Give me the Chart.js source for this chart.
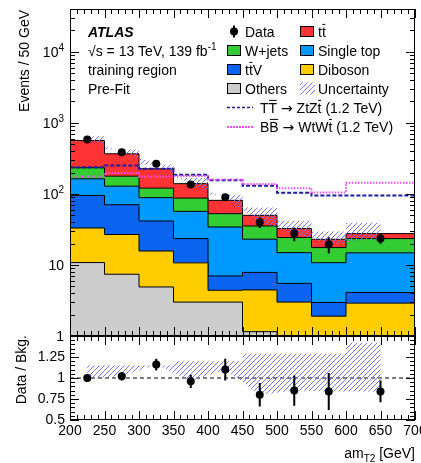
<!DOCTYPE html>
<html>
<head>
<meta charset="utf-8">
<script src="https://cdn.jsdelivr.net/npm/chart.js@4.4.1/dist/chart.umd.min.js"></script>
<style>
  html, body { margin: 0; padding: 0; background: #fff; }
  #wrap { position: relative; width: 421px; height: 463px; overflow: hidden; }
  #wrap canvas { position: absolute; left: 0; top: 0; }
</style>
</head>
<body>
<div id="wrap">
  <canvas id="ratio" width="421" height="463"></canvas>
  <canvas id="main" width="421" height="463"></canvas>
</div>
<script>
// amT2 bins (last bin is 100 GeV wide)
const binEdges = [200, 250, 300, 350, 400, 450, 500, 550, 600, 700];
const binCenters = [225, 275, 325, 375, 425, 475, 525, 575, 650];

// background components, events / 50 GeV
const others    = [10.8, 7.4, 4.9, 3.0, 3.0, 1.15, 0.5, 0.4, 0.4];
const diboson   = [22.3, 19.4, 10.8, 7.7, 1.4, 3.3, 2.5, 1.5, 2.5];
const ttV       = [62, 43.7, 25.8, 12.8, 2.6, 3.4, 2.5, 1.06, 1.2];
const singleTop = [68, 58, 47, 33.3, 27.2, 15.2, 9.4, 7.8, 10.7];
const wjets     = [70, 49, 32, 30.5, 18.5, 12.3, 9.4, 6.8, 8.7];
const ttbar     = [330, 189, 105, 52, 28.4, 14.6, 8.2, 5.4, 4.1];

const dataCounts = [582, 386, 265, 136, 90, 40, 27.6, 19.6, 23.5];
const dataErr    = [25, 20, 16, 11, 10, 7, 6, 5, 3.7];

// signal hypotheses, 1.2 TeV
const sigTT = [238, 251, 226, 186, 155, 130, 104, 95, 95];
const sigBB = [176, 196, 176, 178, 160, 138, 120, 105, 144];

// relative background uncertainty per bin
const relUnc = [0.15, 0.15, 0.15, 0.2, 0.2, 0.29, 0.29, 0.29, 0.42];

const ratio    = [1.0, 1.02, 1.16, 0.96, 1.1, 0.8, 0.85, 0.84, 0.84];
const ratioErr = [0.04, 0.05, 0.07, 0.08, 0.13, 0.14, 0.18, 0.22, 0.13];

const FONT = '"Liberation Sans", Arial, Helvetica, sans-serif';
const SYMBOL_FONT = '"DejaVu Sans", sans-serif';
const COLORS = {
  ttbar: '#ff3333', wjets: '#33cc33', singleTop: '#0099ff',
  ttV: '#0a64f0', diboson: '#ffcc00', others: '#cccccc',
  sigTT: '#1c1ca8', sigBB: '#f050f0'
};

// histogram as stepped line: one point per left edge, plus the closing edge
const steps = vals => binEdges.map((x, i) => ({ x, y: vals[Math.min(i, vals.length - 1)] }));

const total = ttbar.map((_, i) => others[i] + diboson[i] + ttV[i] + singleTop[i] + wjets[i] + ttbar[i]);

function makeHatch(color) {
  const c = document.createElement('canvas');
  c.width = c.height = 5;
  const g = c.getContext('2d');
  g.strokeStyle = color;
  g.lineWidth = 1;
  g.beginPath();
  g.moveTo(0, 5); g.lineTo(5, 0);
  g.moveTo(-1, 1); g.lineTo(1, -1);
  g.moveTo(4, 6); g.lineTo(6, 4);
  g.stroke();
  return g.createPattern(c, 'repeat');
}
const hatch = makeHatch('#7474ff');

// text runs: plain, 'sup', 'sub', 'bar' (overlined) or 'sym' (symbol font)
function drawRich(ctx, x, y, parts, size, align) {
  const pieces = parts.map(p => typeof p === 'string' ? [p, ''] : p);
  const fontFor = m => {
    if (m === 'sym') return size + 'px ' + SYMBOL_FONT;
    return (m === 'sup' || m === 'sub' ? Math.round(size * 0.72) : size) + 'px ' + FONT;
  };
  let w = 0;
  for (const [t, m] of pieces) { ctx.font = fontFor(m); w += ctx.measureText(t).width; }
  let cx = align === 'right' ? x - w : x;
  ctx.textAlign = 'left';
  ctx.textBaseline = 'alphabetic';
  for (const [t, m] of pieces) {
    ctx.font = fontFor(m);
    const dy = m === 'sup' ? -size * 0.42 : m === 'sub' ? size * 0.3 : 0;
    ctx.fillText(t, cx, y + dy);
    const tw = ctx.measureText(t).width;
    if (m === 'bar') ctx.fillRect(cx + 0.5, y - size * 0.9, tw - 1, 1);
    cx += tw;
  }
}

// inward ticks on all four sides plus the frame
function makeFrame(xTicks, yTicks) {
  return {
    id: 'atlasFrame',
    afterDatasetsDraw(chart) {
      const { ctx, chartArea: a, scales: { x, y } } = chart;
      ctx.save();
      ctx.strokeStyle = '#000';
      ctx.lineWidth = 1;
      ctx.beginPath();
      for (const [v, len] of xTicks) {
        const px = Math.round(x.getPixelForValue(v)) + 0.5;
        ctx.moveTo(px, a.bottom); ctx.lineTo(px, a.bottom - len);
        ctx.moveTo(px, a.top); ctx.lineTo(px, a.top + len);
      }
      for (const [v, len] of yTicks) {
        const py = Math.round(y.getPixelForValue(v)) + 0.5;
        ctx.moveTo(a.left, py); ctx.lineTo(a.left + len, py);
        ctx.moveTo(a.right, py); ctx.lineTo(a.right - len, py);
      }
      ctx.stroke();
      ctx.strokeRect(a.left + 0.5, a.top + 0.5, a.right - a.left - 1, a.bottom - a.top - 1);
      ctx.restore();
    }
  };
}

const errorBars = {
  id: 'errorBars',
  afterDatasetsDraw(chart) {
    const { ctx, scales: { y } } = chart;
    chart.data.datasets.forEach((ds, i) => {
      if (!ds.errors) return;
      const meta = chart.getDatasetMeta(i);
      ctx.save();
      ctx.strokeStyle = '#000';
      ctx.lineWidth = 2;
      ctx.beginPath();
      meta.data.forEach((pt, j) => {
        const v = ds.data[j].y, e = ds.errors[j];
        ctx.moveTo(pt.x, y.getPixelForValue(v + e));
        ctx.lineTo(pt.x, y.getPixelForValue(v - e));
      });
      ctx.stroke();
      ctx.restore();
    });
  }
};

const Y_MAX = 40000;
const xTicks = [];
for (let v = 200; v <= 700; v += 10) xTicks.push([v, v % 50 === 0 ? 9 : 5]);
const logTicks = [];
for (let d = 0; d <= 4; d++) {
  for (let k = 1; k <= 9; k++) {
    const v = k * Math.pow(10, d);
    if (v <= Y_MAX) logTicks.push([v, k === 1 ? 9 : 5]);
  }
}
const ratioTicks = [];
for (let i = 10; i <= 30; i++) ratioTicks.push([i / 20, i % 5 === 0 ? 9 : 5]);

const mainText = {
  id: 'mainText',
  afterDraw(chart) {
    const { ctx, scales: { y } } = chart;
    ctx.save();
    ctx.fillStyle = '#000';
    // y tick labels with exponents
    for (let d = 0; d <= 4; d++) {
      const py = y.getPixelForValue(Math.pow(10, d)) + 5;
      const parts = d === 0 ? ['1'] : d === 1 ? ['10'] : ['10', [String(d), 'sup']];
      drawRich(ctx, 64, py, parts, 14, 'right');
    }
    // y title
    ctx.save();
    ctx.translate(25, 10);
    ctx.rotate(-Math.PI / 2);
    ctx.font = '14px ' + FONT;
    ctx.textAlign = 'right';
    ctx.textBaseline = 'middle';
    ctx.fillText('Events / 50 GeV', 0, 0);
    ctx.restore();

    const rows = [31.5, 50.5, 69.5, 88.5, 107.5, 126.5];
    ctx.font = 'italic bold 14px ' + FONT;
    ctx.textAlign = 'left';
    ctx.fillText('ATLAS', 88, rows[0] + 5);
    drawRich(ctx, 88, rows[1] + 5, ['\u221As = 13 TeV, 139 fb', ['-1', 'sup']], 14);
    drawRich(ctx, 88, rows[2] + 5, ['training region'], 14);
    drawRich(ctx, 88, rows[3] + 5, ['Pre-Fit'], 14);

    const box = (x, yc, fill) => {
      ctx.fillStyle = fill;
      ctx.fillRect(x, yc - 5.5, 14, 11);
      ctx.strokeStyle = '#000';
      ctx.lineWidth = 1;
      ctx.strokeRect(x + 0.5, yc - 5, 13, 10);
      ctx.fillStyle = '#000';
    };
    // data marker
    ctx.beginPath();
    ctx.arc(234, rows[0], 4, 0, Math.PI * 2);
    ctx.fill();
    ctx.fillRect(233, rows[0] - 6, 2, 12);
    drawRich(ctx, 245, rows[0] + 5, ['Data'], 14);
    box(227, rows[1], COLORS.wjets);
    drawRich(ctx, 245, rows[1] + 5, ['W+jets'], 14);
    box(227, rows[2], COLORS.ttV);
    drawRich(ctx, 245, rows[2] + 5, ['t', ['t', 'bar'], 'V'], 14);
    box(227, rows[3], COLORS.others);
    drawRich(ctx, 245, rows[3] + 5, ['Others'], 14);

    box(300, rows[0], COLORS.ttbar);
    drawRich(ctx, 318, rows[0] + 5, ['t', ['t', 'bar']], 14);
    box(300, rows[1], COLORS.singleTop);
    drawRich(ctx, 318, rows[1] + 5, ['Single top'], 14);
    box(300, rows[2], COLORS.diboson);
    drawRich(ctx, 318, rows[2] + 5, ['Diboson'], 14);
    ctx.fillStyle = hatch;
    ctx.fillRect(300, rows[3] - 6, 15, 12);
    ctx.fillStyle = '#000';
    drawRich(ctx, 318, rows[3] + 5, ['Uncertainty'], 14);

    ctx.lineWidth = 1.5;
    ctx.strokeStyle = COLORS.sigTT;
    ctx.setLineDash([3, 2]);
    ctx.beginPath(); ctx.moveTo(227, rows[4]); ctx.lineTo(253, rows[4]); ctx.stroke();
    ctx.lineWidth = 2;
    ctx.strokeStyle = COLORS.sigBB;
    ctx.setLineDash([2, 1]);
    ctx.beginPath(); ctx.moveTo(227, rows[5] + 0.5); ctx.lineTo(253, rows[5] + 0.5); ctx.stroke();
    ctx.setLineDash([]);
    drawRich(ctx, 260, rows[4] + 5, ['T', ['T', 'bar'], ' ', ['\u2192', 'sym'], ' ZtZ', ['t', 'bar'], ' (1.2 TeV)'], 14);
    drawRich(ctx, 260, rows[5] + 5, ['B', ['B', 'bar'], ' ', ['\u2192', 'sym'], ' WtW', ['t', 'bar'], ' (1.2 TeV)'], 14);
    ctx.restore();
  }
};

const ratioText = {
  id: 'ratioText',
  afterDraw(chart) {
    const ctx = chart.ctx;
    ctx.save();
    ctx.fillStyle = '#000';
    ctx.save();
    ctx.translate(22, 335);
    ctx.rotate(-Math.PI / 2);
    ctx.font = '14px ' + FONT;
    ctx.textAlign = 'right';
    ctx.textBaseline = 'middle';
    ctx.fillText('Data / Bkg.', 0, 0);
    ctx.restore();
    drawRich(ctx, 415, 458, ['am', ['T2', 'sub'], ' [GeV]'], 14, 'right');
    ctx.restore();
  }
};

const bkg = (label, vals, color, fill) => ({
  label, data: steps(vals), stack: 'bkg', stepped: true, fill,
  backgroundColor: color, borderColor: '#000', borderWidth: 1, pointRadius: 0
});

new Chart(document.getElementById('main'), {
  type: 'line',
  data: {
    datasets: [
      {
        label: 'Data', stack: 'data', showLine: false,
        data: binCenters.map((x, i) => ({ x, y: dataCounts[i] })), errors: dataErr,
        pointRadius: 4, pointBackgroundColor: '#000', pointBorderWidth: 0
      },
      {
        label: 'Uncertainty', stack: 'uncHi', stepped: true, fill: '-1',
        data: steps(total.map((t, i) => t * (1 + relUnc[i]))),
        backgroundColor: hatch, borderWidth: 0, pointRadius: 0
      },
      {
        label: 'unc-lo', stack: 'uncLo', stepped: true, fill: false,
        data: steps(total.map((t, i) => t * (1 - relUnc[i]))),
        borderWidth: 0, pointRadius: 0
      },
      {
        label: 'BB', stack: 'sigBB', stepped: true, fill: false, data: steps(sigBB),
        borderColor: COLORS.sigBB, borderWidth: 2, borderDash: [1.5, 1.5], pointRadius: 0
      },
      {
        label: 'TT', stack: 'sigTT', stepped: true, fill: false, data: steps(sigTT),
        borderColor: COLORS.sigTT, borderWidth: 2, borderDash: [4, 2], pointRadius: 0
      },
      bkg('Others', others, COLORS.others, 'start'),
      bkg('Diboson', diboson, COLORS.diboson, '-1'),
      bkg('ttV', ttV, COLORS.ttV, '-1'),
      bkg('Single top', singleTop, COLORS.singleTop, '-1'),
      bkg('W+jets', wjets, COLORS.wjets, '-1'),
      bkg('ttbar', ttbar, COLORS.ttbar, '-1')
    ]
  },
  options: {
    responsive: false,
    animation: false,
    devicePixelRatio: 1,
    events: [],
    layout: { padding: { left: 70, right: 6, top: 9, bottom: 127 } },
    plugins: { legend: { display: false }, tooltip: { enabled: false } },
    scales: {
      x: { type: 'linear', min: 200, max: 700, display: false },
      y: { type: 'logarithmic', min: 1, max: Y_MAX, stacked: true, display: false }
    }
  },
  plugins: [makeFrame(xTicks, logTicks), errorBars, mainText]
});

new Chart(document.getElementById('ratio'), {
  type: 'line',
  data: {
    datasets: [
      {
        label: 'Data / Bkg.', showLine: false,
        data: binCenters.map((x, i) => ({ x, y: ratio[i] })), errors: ratioErr,
        pointRadius: 4, pointBackgroundColor: '#000', pointBorderWidth: 0
      },
      {
        label: 'Uncertainty', stepped: true, fill: '-1',
        data: steps(relUnc.map(u => 1 + u)),
        backgroundColor: hatch, borderWidth: 0, pointRadius: 0
      },
      {
        label: 'unc-lo', stepped: true, fill: false,
        data: steps(relUnc.map(u => 1 - u)),
        borderWidth: 0, pointRadius: 0
      },
      {
        label: 'unity', fill: false, data: [{ x: 200, y: 1 }, { x: 700, y: 1 }],
        borderColor: '#000', borderWidth: 1, borderDash: [4, 3], pointRadius: 0
      }
    ]
  },
  options: {
    responsive: false,
    animation: false,
    devicePixelRatio: 1,
    events: [],
    layout: { padding: { left: 0, right: 6, top: 336, bottom: 0 } },
    plugins: { legend: { display: false }, tooltip: { enabled: false } },
    scales: {
      x: {
        type: 'linear', min: 200, max: 700,
        grid: { display: false, drawTicks: false }, border: { display: false },
        ticks: {
          stepSize: 50, autoSkip: false, maxRotation: 0, padding: 3, color: '#000',
          font: { family: FONT, size: 14 }
        },
        afterFit: s => { s.height = 43; s.paddingLeft = 0; s.paddingRight = 0; }
      },
      y: {
        type: 'linear', min: 0.5, max: 1.5,
        grid: { display: false, drawTicks: false }, border: { display: false },
        afterBuildTicks: s => { s.ticks = [0.5, 0.75, 1, 1.25].map(value => ({ value })); },
        ticks: {
          padding: 5, color: '#000', font: { family: FONT, size: 14 },
          callback: v => String(v)
        },
        afterFit: s => { s.width = 70; s.paddingTop = 0; s.paddingBottom = 0; }
      }
    }
  },
  plugins: [makeFrame(xTicks, ratioTicks), errorBars, ratioText]
});
</script>
</body>
</html>
